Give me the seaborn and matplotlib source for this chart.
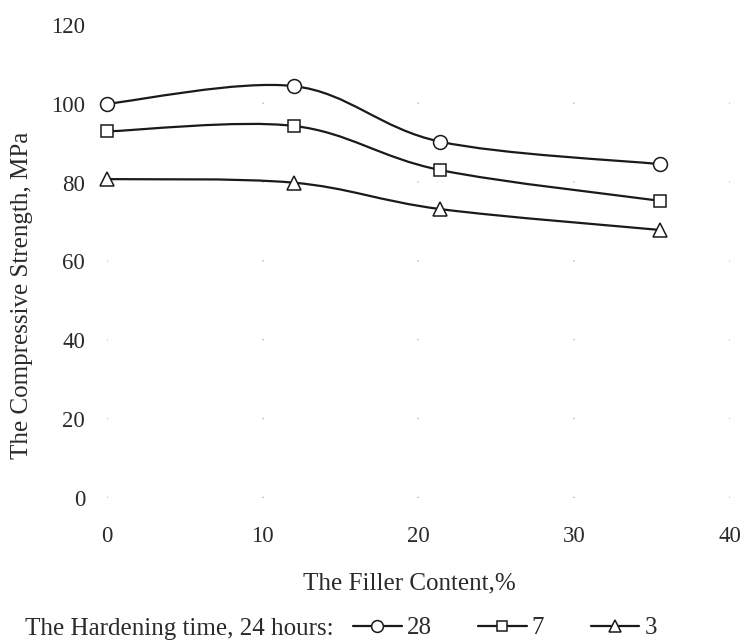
import numpy as np
import pandas as pd
import matplotlib
matplotlib.use("Agg")
import matplotlib.pyplot as plt
from matplotlib.path import Path
from matplotlib.patches import PathPatch
from matplotlib.lines import Line2D
import seaborn as sns

# ---- data ----
filler = [0, 12, 21.4, 35.5]
days_28 = [100, 104.5, 90.4, 84.7]
days_7 = [93, 94.4, 83.2, 75.4]
days_3 = [80.9, 80.0, 73.3, 68.0]
series_labels = ["28", "7", "3"]
x_ticks = [0, 10, 20, 30, 40]
y_ticks = [0, 20, 40, 60, 80, 100, 120]

sns.set_theme(style="white")
plt.rcParams["font.family"] = ["Liberation Serif", "DejaVu Serif"]
TXT = "#2a2a2a"
INK = "#1a1a1a"

df = pd.DataFrame({
    "x": filler * 3,
    "y": days_28 + days_7 + days_3,
    "series": sum([[s] * len(filler) for s in series_labels], []),
})

fig = plt.figure(figsize=(7.43, 6.41), dpi=100)
ax = fig.add_axes([106.7 / 743, 1 - 498 / 641, (730 - 106.7) / 743, (498 - 25) / 641])


def smooth_path(xs, ys):
    pts = np.column_stack([xs, ys]).astype(float)
    n = len(pts)
    verts = [pts[0]]
    codes = [Path.MOVETO]
    for i in range(n - 1):
        p0 = pts[i - 1] if i > 0 else pts[i]
        p1 = pts[i]
        p2 = pts[i + 1]
        p3 = pts[i + 2] if i + 2 < n else pts[i + 1]
        c1 = p1 + (p2 - p0) / 6.0
        c2 = p2 - (p3 - p1) / 6.0
        verts += [c1, c2, p2]
        codes += [Path.CURVE4] * 3
    return Path(verts, codes)


for ys in (days_28, days_7, days_3):
    ax.add_patch(PathPatch(smooth_path(filler, ys), facecolor="none",
                           edgecolor=INK, lw=1.6, zorder=2))

markers = {"28": "o", "7": "s", "3": "^"}
sizes = {"28": 10, "7": 8.5, "3": 9.5}
sns.lineplot(data=df, x="x", y="y", hue="series", style="series",
             hue_order=series_labels, style_order=series_labels,
             palette={s: INK for s in series_labels},
             markers=markers, dashes=False, linestyle="", ax=ax,
             legend=False, zorder=3)
for line, s in zip(ax.lines, series_labels):
    line.set_markersize(sizes[s])
    line.set_markerfacecolor("white")
    line.set_markeredgecolor(INK)
    line.set_markeredgewidth(1.1)
    line.set_clip_on(False)

ax.set_xlim(0, 40)
ax.set_ylim(0, 120)
ax.set_xticks(x_ticks)
ax.set_yticks(y_ticks)
ax.tick_params(axis="both", length=0, labelsize=16.5, labelcolor=TXT)
ax.tick_params(axis="x", pad=20.5)
ax.tick_params(axis="y", pad=15.5)
for sp in ax.spines.values():
    sp.set_visible(False)

# dotted grid: dots only at intersections
grid_lw = 1.3
period_pt = (473 / 6) * 72 / 100 / grid_lw
on = 0.7
ax.grid(axis="x", color="#bdbdbd", lw=grid_lw, linestyle=(0, (on, period_pt - on)))
ax.grid(axis="y", visible=False)
ax.set_axisbelow(True)

ax.set_xlabel("The Filler Content,%", fontsize=18, color=TXT, va="center")
ax.xaxis.set_label_coords((409 - 106.7) / 623.3, (498 - 583) / 473)
ax.set_ylabel("The Compressive Strength, MPa", fontsize=18, color=TXT, va="center")
ax.yaxis.set_label_coords((22 - 106.7) / 623.3, (498 - 295) / 473)

# legend
fig.text(25 / 743, 1 - 635 / 641, "The Hardening time, 24 hours:", fontsize=18,
         color=TXT, ha="left", va="baseline")
handles = [Line2D([], [], color=INK, lw=1.6, marker=markers[s],
                  markersize=sizes[s] * 0.85, markerfacecolor="white",
                  markeredgecolor=INK, markeredgewidth=1.1)
           for s in series_labels]
leg = fig.legend(handles, series_labels, loc="center left",
                 bbox_to_anchor=(353 / 743, 1 - 628 / 641), ncol=3, frameon=False,
                 fontsize=18, handlelength=1.95, handletextpad=0.2,
                 columnspacing=1.85, borderpad=0, borderaxespad=0)
for t in leg.get_texts():
    t.set_color(TXT)

fig.savefig("out.png", dpi=100)
